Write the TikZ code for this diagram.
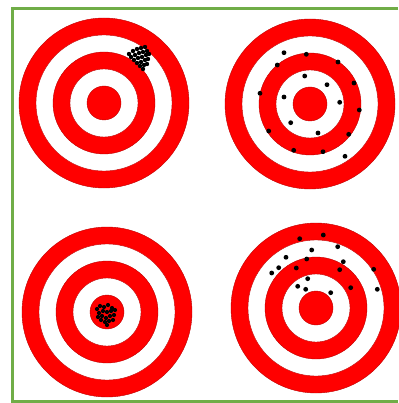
\documentclass[tikz,border=0pt]{standalone}
\definecolor{frameGreen}{RGB}{112,173,71}
\definecolor{ringRed}{RGB}{255,0,0}
\definecolor{edgeRed}{RGB}{190,0,0}
\tikzset{
  redring/.style={fill=ringRed,draw=edgeRed,line width=0.4pt},
  whitering/.style={fill=white,draw=edgeRed,line width=0.4pt},
  shot/.style={fill=black},
  pics/target/.style={code={
    \fill[redring] (0,0) circle (85);
    \fill[whitering] (0,0) circle (68);
    \fill[redring] (0,0) circle (51);
    \fill[whitering] (0,0) circle (34);
    \fill[redring] (0,0) circle (17);
  }}
}
\begin{document}
\begin{tikzpicture}[x=1pt,y=-1pt]
\useasboundingbox (0,0) rectangle (398,403);
\fill[white] (0,0) rectangle (398,403);
% frame
\draw[frameGreen,line width=3.6pt] (398,8.5) -- (12.5,8.5) -- (12.5,401.5) -- (398,401.5);
% targets
\pic at (104,103) {target};
\pic at (310,104) {target};
\pic at (107,312) {target};
\pic at (316,308) {target};
% shots: top-left cluster
\foreach \p in {(129,54),(133,51),(137,49),(141,48),(145,47),
  (131,57),(135,55),(139,53),(143,52),(147,51),
  (134,60),(138,58),(142,57),(146,55),(149,54),
  (137,63),(141,62),(145,60),(148,59),
  (140,66),(144,65),(147,64),(143,69)}
  \fill[shot] \p circle (2.2);
% shots: top-right scatter
\foreach \p in {(284,52.7),(306.3,54.3),(277.3,65),(338,62),(304.7,76),
  (327,84.7),(354,83),(260,93.3),(284,97),(339.7,102.3),(359.3,110),
  (290.7,122.7),(268.7,131),(318,133),(348.7,134.3),(293.7,150.3),
  (323,151.7),(345,156.3)}
  \fill[shot] \p circle (2.4);
% shots: bottom-left cluster
\foreach \p in {(97,309),(100,306),(104,307),(108,305),(112,308),
  (99,313),(103,311),(107,312),(111,311),(115,310),
  (98,317),(102,316),(106,318),(110,316),(114,315),
  (101,320),(105,322),(109,321),(113,320),(107,325)}
  \fill[shot] \p circle (2.1);
% shots: bottom-right scatter
\foreach \p in {(299.7,238.7),(323.3,235),(311.7,250),(337.7,246.7),
  (286,257.3),(306.7,259),(343.3,261.7),(278.7,267.7),(296.3,268),
  (339.7,269.7),(373.7,269.3),(271.7,273),(307.7,278.7),(297.7,286.3),
  (305.7,289.3),(350.7,287.7),(330.7,292.7),(377.3,289.3)}
  \fill[shot] \p circle (2.4);
\end{tikzpicture}
\end{document}
